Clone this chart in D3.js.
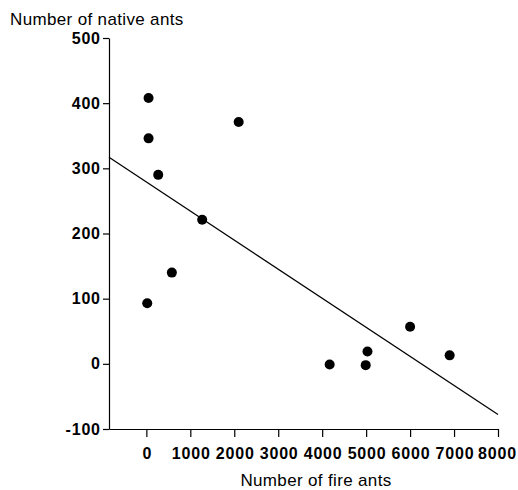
<!DOCTYPE html>
<html>
<head>
<meta charset="utf-8">
<script src="https://cdn.jsdelivr.net/npm/d3@7"></script>
<style>
  body { margin: 0; background: #fff; }
  svg text { font-family: "Liberation Sans", Arial, sans-serif; fill: #000; }
</style>
</head>
<body>
<svg id="chart" width="518" height="490"></svg>
<script>
// data
var fireAnts   = [50, 50, 270, 2100, 1270, 580, 20, 4170, 4990, 5030, 6000, 6900];
var nativeAnts = [408, 346, 290, 371, 221, 140, 93, -1, -2, 19, 57, 13];
var xTicks = [0, 1000, 2000, 3000, 4000, 5000, 6000, 7000, 8000];
var yTicks = [-100, 0, 100, 200, 300, 400, 500];
// fitted line: native = intercept + slope * fire
var fitIntercept = 279;
var fitSlope = -0.0446;

var svg = d3.select('#chart');

var x = d3.scaleLinear().domain([-850, 8000]).range([109, 498]);
var y = d3.scaleLinear().domain([-100, 500]).range([429, 38]);

var plain = function(d) { return String(d); };

// y axis
var yAxis = svg.append('g')
    .attr('transform', 'translate(' + x(-850) + ',0)')
    .call(d3.axisLeft(y).tickValues(yTicks).tickFormat(plain)
        .tickSize(6).tickPadding(3).tickSizeOuter(0));

// x axis
var xAxis = svg.append('g')
    .attr('transform', 'translate(0,' + y(-100) + ')')
    .call(d3.axisBottom(x).tickValues(xTicks).tickFormat(plain)
        .tickSize(8).tickPadding(11).tickSizeOuter(0));

[yAxis, xAxis].forEach(function(g) {
    g.select('.domain').attr('stroke', '#000').attr('stroke-width', 1.2);
    g.selectAll('.tick line').attr('stroke', '#000').attr('stroke-width', 1.2);
    g.selectAll('.tick text')
        .attr('font-family', '"Liberation Sans", Arial, sans-serif')
        .attr('font-size', '16px')
        .attr('font-weight', 'bold')
        .attr('letter-spacing', '0.8px')
        .attr('fill', '#000');
});
// letter-spacing adds a trailing gap; nudge so labels stay centred / flush
xAxis.selectAll('.tick text').attr('dx', '0.4px');
yAxis.selectAll('.tick text').attr('dx', '0.8px');
// keep the last x label inside the window
xAxis.selectAll('.tick text').filter(function(d) { return d === xTicks[xTicks.length - 1]; })
    .attr('dx', '-1px');

// regression line across the full x range
var xs = x.domain();
svg.append('line')
    .attr('x1', x(xs[0]))
    .attr('y1', y(fitIntercept + fitSlope * xs[0]))
    .attr('x2', x(xs[1]))
    .attr('y2', y(fitIntercept + fitSlope * xs[1]))
    .attr('stroke', '#000')
    .attr('stroke-width', 1.3);

// points
svg.append('g').selectAll('circle')
    .data(fireAnts.map(function(f, i) { return { f: f, n: nativeAnts[i] }; }))
    .enter().append('circle')
    .attr('cx', function(d) { return x(d.f); })
    .attr('cy', function(d) { return y(d.n); })
    .attr('r', 5)
    .attr('fill', '#000');

// titles
svg.append('text')
    .attr('x', 10)
    .attr('y', 25)
    .attr('font-size', '17px')
    .attr('letter-spacing', '0.35px')
    .text('Number of native ants');

svg.append('text')
    .attr('x', 316)
    .attr('y', 486)
    .attr('text-anchor', 'middle')
    .attr('font-size', '17px')
    .attr('letter-spacing', '0.35px')
    .text('Number of fire ants');
</script>
</body>
</html>
